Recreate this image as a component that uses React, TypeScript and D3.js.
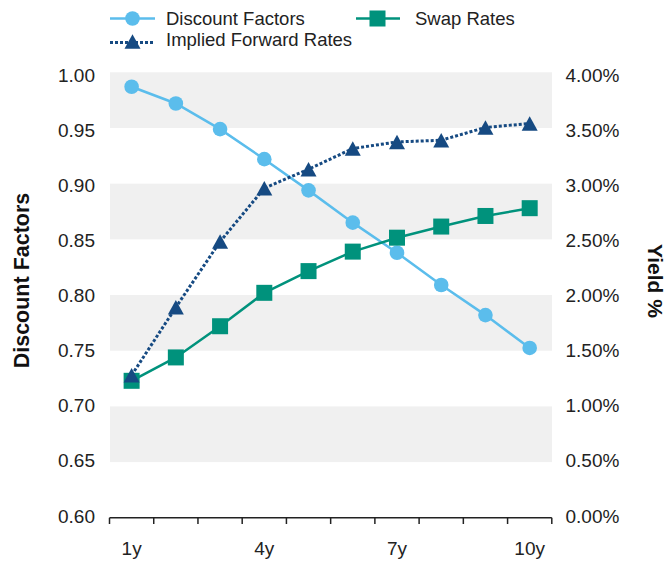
import React from "react";
import * as d3 from "d3";

const categories = ["1y", "2y", "3y", "4y", "5y", "6y", "7y", "8y", "9y", "10y"];
const tickLabels = ["1y", "4y", "7y", "10y"];
const discountFactors = [0.987, 0.972, 0.949, 0.922, 0.894, 0.865, 0.838, 0.809, 0.782, 0.7525];
const swapRates = [1.23, 1.44, 1.72, 2.02, 2.215, 2.39, 2.515, 2.615, 2.71, 2.78];
const forwardRates = [1.28, 1.89, 2.48, 2.96, 3.13, 3.315, 3.375, 3.39, 3.505, 3.54];
const leftTicks = [0.6, 0.65, 0.7, 0.75, 0.8, 0.85, 0.9, 0.95, 1.0];
const rightTicks = [0, 0.5, 1, 1.5, 2, 2.5, 3, 3.5, 4];

const W = 665, H = 565;
const FONT = "'Liberation Sans', Arial, sans-serif";
const C_DF = "#5bbdec";
const C_SW = "#00927c";
const C_FW = "#164a82";
const GREY = "#f0f0f0";
const TXT = "#222";

export default function App() {
  const x = d3.scaleBand<string>().domain(categories).range([109.5, 551.8]);
  const xc = (c: string) => (x(c) as number) + x.bandwidth() / 2;
  const yL = d3.scaleLinear().domain([0.6, 1.0]).range([517.8, 72.3]);
  const yR = d3.scaleLinear().domain([0, 4]).range([517.8, 72.3]);
  // tick label baseline positions
  const yLab = d3.scaleLinear().domain([0.6, 1.0]).range([522.5, 82]);

  const lineL = d3.line<number>().x((_, i) => xc(categories[i])).y((d) => yL(d));
  const lineR = d3.line<number>().x((_, i) => xc(categories[i])).y((d) => yR(d));

  const bands = [[0.95, 1.0], [0.85, 0.9], [0.75, 0.8], [0.65, 0.7]];
  const tri = (cx: number, cy: number, w = 16, h = 14.5) =>
    `M${cx},${cy - h / 2}L${cx + w / 2},${cy + h / 2}L${cx - w / 2},${cy + h / 2}Z`;

  const xTicks = d3.range(categories.length + 1).map((i) => 109.5 + i * x.step());

  return (
    <div style={{ position: "absolute", left: 0, top: 0 }}>
      <svg width={W} height={H} style={{ display: "block", fontFamily: FONT }}>
        <rect width={W} height={H} fill="#fff" />
        {bands.map(([a, b], i) => (
          <rect key={i} x={110} width={442} y={yL(b)} height={yL(a) - yL(b)} fill={GREY} />
        ))}
        {/* x axis */}
        <line x1={109.5} x2={551.8} y1={517.8} y2={517.8} stroke="#222" strokeWidth={1.5} />
        {xTicks.map((t, i) => (
          <line key={i} x1={t} x2={t} y1={517.8} y2={524} stroke="#222" strokeWidth={1.5} />
        ))}
        {tickLabels.map((c) => (
          <text key={c} x={xc(c)} y={555} textAnchor="middle" fontSize={19} fill={TXT}>
            {c}
          </text>
        ))}
        {/* left ticks */}
        {leftTicks.map((t) => (
          <text key={t} x={95} y={yLab(t)} textAnchor="end" fontSize={19} fill={TXT}>
            {t.toFixed(2)}
          </text>
        ))}
        {rightTicks.map((t) => (
          <text key={t} x={565.5} y={yLab(0.6 + t / 10)} textAnchor="start" fontSize={19} fill={TXT}>
            {t.toFixed(2) + "%"}
          </text>
        ))}
        <text transform={`translate(28.5,280.5) rotate(-90)`} textAnchor="middle" fontSize={21.5} fontWeight={700} fill="#111">
          Discount Factors
        </text>
        <text transform={`translate(647.5,281) rotate(90)`} textAnchor="middle" fontSize={21} fontWeight={700} fill="#111">
          Yield %
        </text>

        {/* series */}
        <path d={lineL(discountFactors) || ""} fill="none" stroke={C_DF} strokeWidth={2.5} />
        {discountFactors.map((d, i) => (
          <circle key={i} cx={xc(categories[i])} cy={yL(d)} r={7.3} fill={C_DF} />
        ))}
        <path d={lineR(swapRates) || ""} fill="none" stroke={C_SW} strokeWidth={2.5} />
        {swapRates.map((d, i) => (
          <rect key={i} x={xc(categories[i]) - 8} y={yR(d) - 8} width={16} height={16} fill={C_SW} />
        ))}
        <path d={lineR(forwardRates) || ""} fill="none" stroke={C_FW} strokeWidth={3} strokeDasharray="3,2" />
        {forwardRates.map((d, i) => (
          <path key={i} d={tri(xc(categories[i]), yR(d))} fill={C_FW} />
        ))}

        {/* legend */}
        <line x1={110} x2={155} y1={18.5} y2={18.5} stroke={C_DF} strokeWidth={2.5} />
        <circle cx={132.5} cy={18.5} r={7.3} fill={C_DF} />
        <text x={166} y={25} fontSize={18.5} fill={TXT}>Discount Factors</text>
        <line x1={356} x2={400} y1={18.5} y2={18.5} stroke={C_SW} strokeWidth={2.5} />
        <rect x={369.5} y={10.5} width={16} height={16} fill={C_SW} />
        <text x={415} y={25} fontSize={18.5} fill={TXT}>Swap Rates</text>
        <line x1={110} x2={153} y1={42.5} y2={42.5} stroke={C_FW} strokeWidth={3} strokeDasharray="3,2" />
        <path d={tri(132.5, 41.5)} fill={C_FW} />
        <text x={166} y={46} fontSize={18.5} fill={TXT}>Implied Forward Rates</text>
      </svg>
    </div>
  );
}
